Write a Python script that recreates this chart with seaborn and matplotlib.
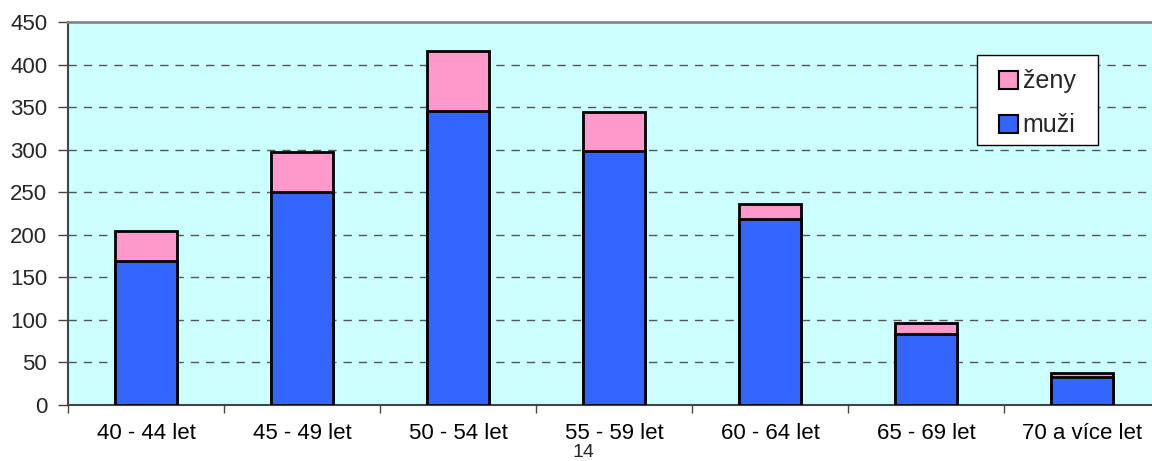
import pandas as pd
import matplotlib.pyplot as plt
import seaborn as sns
from matplotlib.patches import Patch, Rectangle

# data
kategorie = ['40 - 44 let', '45 - 49 let', '50 - 54 let', '55 - 59 let',
             '60 - 64 let', '65 - 69 let', '70 a více let']
muzi = [169, 250, 346, 299, 218, 84, 33]
zeny = [36, 47, 70, 45, 18, 12, 5]

df = pd.DataFrame({'kat': kategorie, 'muzi': muzi, 'zeny': zeny})
df['celkem'] = df['muzi'] + df['zeny']

sns.set_style('white')
plt.rcParams['font.family'] = ['Liberation Sans', 'DejaVu Sans']

fig = plt.figure(figsize=(11.52, 4.61), dpi=100)
ax = fig.add_axes([68 / 1152, 56 / 461, 1092 / 1152, 383 / 461])
ax.set_facecolor('#CCFFFF')

# stacked bars: totals (pink) behind, men (blue) in front
sns.barplot(x='kat', y='celkem', data=df, color='#FF99CC', width=0.4,
            edgecolor='black', linewidth=2, saturation=1, ax=ax, zorder=3)
sns.barplot(x='kat', y='muzi', data=df, color='#3366FF', width=0.4,
            edgecolor='black', linewidth=2, saturation=1, ax=ax, zorder=4)

ax.set_ylim(0, 450)
ax.set_xlim(-0.5, 6.5)
ax.set_yticks(range(0, 451, 50))
ax.set_xlabel('')
ax.set_ylabel('')
for y in range(50, 401, 50):
    ax.axhline(y, color='#555555', linestyle=(0, (6, 5)), linewidth=1, zorder=1)

# ticks between categories
ax.set_xticks([i + 0.5 for i in range(-1, 7)], minor=True)
ax.tick_params(axis='x', which='major', length=0, labelsize=16, pad=13, colors='black')
ax.tick_params(axis='x', which='minor', length=6, width=1, direction='out', color='#444444')
ax.tick_params(axis='y', length=7, width=1, direction='out', labelsize=16, pad=8,
               color='#444444')
ax.xaxis.set_ticks_position('bottom')
ax.yaxis.set_ticks_position('left')

for side in ['left', 'bottom']:
    ax.spines[side].set_color('#444444')
    ax.spines[side].set_linewidth(1.5)
ax.spines['top'].set_color('#888888')
ax.spines['top'].set_linewidth(2)
ax.spines['right'].set_visible(False)

# legend box drawn separately, entries in a frameless legend
ax.add_patch(Rectangle((0.8324, 0.6789), 0.1108, 0.2349, transform=ax.transAxes,
                       facecolor='white', edgecolor='black', linewidth=1, zorder=9))
handles = [Patch(facecolor='#FF99CC', edgecolor='black', linewidth=1.5, label='ženy'),
           Patch(facecolor='#3366FF', edgecolor='black', linewidth=1.5, label='muži')]
leg = ax.legend(handles=handles, loc='upper left', bbox_to_anchor=(0.8525, 0.876),
                fontsize=18, frameon=False, handlelength=0.75, handleheight=0.75,
                handletextpad=0.2, labelspacing=0.8, borderpad=0, borderaxespad=0)
leg.set_zorder(10)

fig.text(583 / 1152, 0, '14', ha='center', va='bottom', fontsize=14)

fig.savefig('out.png', dpi=100)
